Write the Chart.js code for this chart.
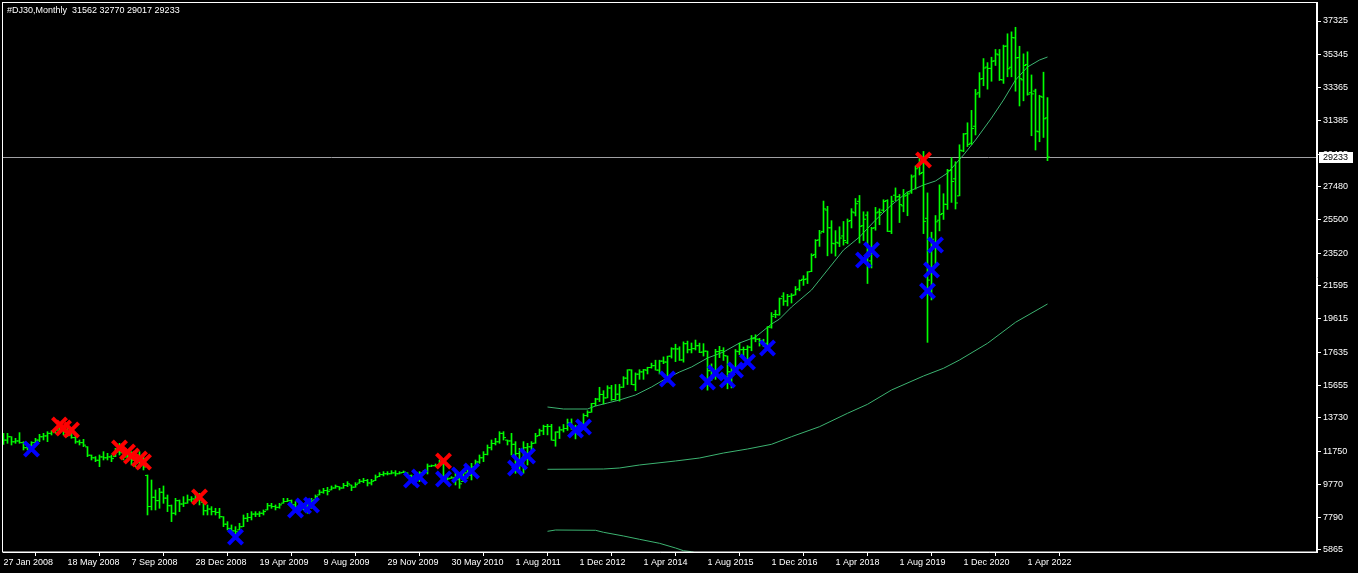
<!DOCTYPE html>
<html>
<head>
<meta charset="utf-8">
<title>#DJ30,Monthly</title>
<script src="https://cdn.jsdelivr.net/npm/chart.js@4.4.1/dist/chart.umd.min.js"></script>
<style>
  html, body { margin: 0; padding: 0; background: #000; }
  #wrap { position: relative; width: 1358px; height: 573px; }
  canvas { display: block; }
</style>
</head>
<body>
<div id="wrap"><canvas id="chart" width="1358" height="573"></canvas></div>
<script>
// ---- data (one bar per slot; weekly up to 2011, monthly after) ----
const symbolTitle = "#DJ30,Monthly";
const lastOHLC = [31562, 32770, 29017, 29233];
const bidPrice = 29233;

const tickLabels = ["27 Jan 2008", "18 May 2008", "7 Sep 2008", "28 Dec 2008", "19 Apr 2009",
  "9 Aug 2009", "29 Nov 2009", "30 May 2010", "1 Aug 2011", "1 Dec 2012", "1 Apr 2014",
  "1 Aug 2015", "1 Dec 2016", "1 Apr 2018", "1 Aug 2019", "1 Dec 2020", "1 Apr 2022"];
const tickBars = [0, 16, 32, 48, 64, 80, 96, 112, 128, 144, 160, 176, 192, 208, 224, 240, 256];

const priceTicks = [37325, 35345, 33365, 31385, 29405, 27480, 25500, 23520, 21595, 19615,
  17635, 15655, 13730, 11750, 9770, 7790, 5865];

const barOpen = [
  12500,12400,12600,12300,12350,12250,11950,12100,12250,12400,
  12600,12650,12800,12900,13000,12950,12900,12700,12550,12300,
  12250,12000,11500,11350,11200,11400,11350,11400,11420,11700,
  11650,11400,11450,11200,11300,11100,10300,8450,9000,8800,
  9300,8950,8500,8050,8800,8600,8650,8850,8900,8950,
  8700,8200,8300,8150,8100,7840,7400,7150,7000,7060,
  7250,7750,7800,8000,8000,8050,8250,8500,8450,8400,
  8650,8750,8800,8550,8400,8350,8450,8600,8850,9140,
  9300,9400,9440,9550,9630,9550,9700,9730,9600,9840,
  9950,10000,9850,9990,10230,10350,10400,10400,10450,10400,
  10470,10460,10300,10100,10200,10450,10500,10850,10880,10930,
  11100,10200,10130,10150,10050,9940,10450,10300,10800,11100,
  11350,11550,11950,12200,12300,12800,12400,12350,12150,11600,
  10900,11950,12000,12220,12665,12952,13213,13214,12391,12880,
  13008,13090,13437,13099,13027,13104,13861,14054,14580,14839,
  15113,14911,15499,14810,15132,15544,16085,16572,15697,16321,
  16458,16559,16716,16828,16561,17099,17041,17390,17827,17823,
  17170,18135,17778,17840,18017,17638,17690,16528,16278,17664,
  17719,17405,16453,16546,17661,17784,17790,17925,18434,18400,
  18308,18158,19122,19873,19848,20957,20665,20962,21030,21392,
  21961,21982,22423,23442,24305,24810,26083,25025,24076,24117,
  24542,24161,25461,25916,26598,25151,25779,23058,25025,25967,
  26076,26640,24820,26964,26882,26333,26962,27162,28109,28639,
  28319,25591,21227,24120,25475,25879,26419,28440,27940,26925,
  29597,30627,30054,31065,33054,33904,34584,34507,34951,35313,
  33820,35834,34575,36322,35151,33826,34740,33061,33156,30737,
  32798,31562
];
const barHigh = [
  12804,12804,12606,12507,12844,12308,12209,12308,12507,12745,
  12804,12903,12963,13101,13200,13240,13200,13002,12804,12408,
  12447,12011,11516,11417,11516,11714,11615,11516,11912,12209,
  11912,11813,11714,11615,11714,11516,10327,10029,9435,9534,
  9673,9137,8543,8939,8840,9038,9137,9038,9236,9236,
  8741,8543,8444,8345,8345,7849,7552,7354,7254,7453,
  7948,8047,8147,8147,8147,8246,8642,8642,8543,8642,
  8939,8939,8840,8741,8642,8642,8840,8939,9137,9435,
  9534,9593,9673,9732,9633,9831,9930,9732,9870,10069,
  10128,10069,10069,10327,10465,10525,10525,10584,10584,10525,
  10564,10465,10327,10327,10525,10584,10981,10921,10981,11218,
  11119,10227,10227,10624,10327,10624,10822,11020,11218,11516,
  11714,12110,12408,12507,12903,12903,12408,12804,12308,11912,
  12308,12209,12308,12804,13055,13289,13338,13338,12898,13190,
  13330,13653,13662,13290,13430,13969,14149,14585,14888,15542,
  15341,15634,15658,15709,15721,16175,16588,16588,16398,16588,
  16604,16736,16978,17152,17153,17350,17395,17895,18103,17951,
  18244,18289,18175,18351,18168,18137,17697,16934,17800,17978,
  17898,17405,16752,17791,18168,17934,18017,18622,18668,18450,
  18399,19152,19987,20125,20851,21169,21070,21113,21535,21929,
  22179,22420,23485,24327,24876,26617,26306,25450,24858,25086,
  25403,25551,26167,26769,26951,25980,25980,25056,26241,26155,
  26696,26696,26907,27399,27012,27306,27155,28175,28701,29374,
  29568,27102,24765,25758,27580,27054,28502,29199,28958,29964,
  30637,31272,32010,33259,34256,35091,34849,35171,35632,35631,
  35892,36565,36680,36952,35824,35372,35492,34117,33273,32910,
  34281,32770
];
const barLow = [
  12150,12209,12110,12209,12209,11813,11813,11714,12209,12308,
  12408,12308,12705,12804,12804,12705,12606,12507,12209,12110,
  12011,11417,11218,11119,10822,11218,11218,11119,11417,11516,
  11218,11119,10921,10822,10723,10624,7948,8246,8246,8345,
  8642,8147,7552,7948,8147,8444,8642,8741,8642,8543,
  7948,7948,7948,7948,7750,7254,7056,6858,6561,7056,
  7254,7552,7651,7849,7849,7948,8246,8345,8246,8345,
  8642,8741,8444,8246,8246,8246,8047,8345,8840,9137,
  9236,9137,9435,9534,9435,9534,9633,9395,9593,9831,
  9870,9673,9732,9989,10227,10267,10327,10386,10267,10386,
  10465,10188,9930,9831,9930,10386,10386,10822,10822,10921,
  9930,10029,10128,9732,9534,9930,10128,10029,10723,11020,
  11119,11516,11813,12110,12209,12408,12110,11516,10426,10525,
  10426,10921,11615,12209,12660,12721,12710,12391,12035,12492,
  12880,12979,13040,12471,12883,13104,13784,14054,14434,14688,
  14551,14912,14760,14777,14719,15529,15704,15699,15340,16016,
  16015,16334,16679,16563,16334,16945,15855,17278,17068,17136,
  17037,17585,17584,17760,17600,17400,15370,15942,16013,17305,
  17138,15450,15503,16546,17484,17331,17063,17713,18247,17992,
  17959,17884,19057,19677,19831,20413,20379,20554,21030,21279,
  21600,21709,22416,23242,23921,24742,23360,23509,23345,23908,
  23997,24077,25017,25733,24122,24268,21713,22638,24883,25208,
  25993,24802,24681,26636,25339,25978,25743,27072,27325,28170,
  24681,18213,20735,22789,24843,25523,26120,26537,26144,26925,
  29549,29856,29983,30547,32783,33474,33271,33741,34680,33785,
  33613,34006,34007,33150,32272,32578,32913,30500,29653,30144,
  30400,29017
];
const barClose = [
  12400,12600,12300,12350,12250,11950,12100,12250,12400,12600,
  12650,12800,12900,13000,12950,12900,12700,12550,12300,12250,
  12100,11500,11350,11200,11400,11350,11400,11300,11700,11650,
  11400,11450,11200,11300,11100,10800,8450,9000,8800,9300,
  8950,8500,8050,8800,8600,8650,8850,8900,8950,9000,
  8200,8300,8150,8100,7850,7400,7150,7000,6950,7250,
  7750,7800,8000,8000,8050,8150,8500,8450,8400,8550,
  8750,8800,8550,8400,8350,8450,8600,8800,9050,9300,
  9400,9350,9550,9650,9550,9700,9800,9600,9750,9950,
  10000,9850,9950,10200,10350,10400,10400,10450,10400,10450,
  10500,10300,10100,10200,10450,10500,10850,10880,10900,11100,
  10200,10100,10150,10050,9800,10450,10300,10800,11100,11350,
  11550,11950,12200,12300,12800,12550,12350,12150,11600,10900,
  11950,12000,12200,12630,12952,13212,13214,12393,12880,13009,
  13091,13437,13096,13026,13104,13861,14054,14579,14840,15116,
  14910,15500,14810,15130,15546,16086,16577,15699,16322,16458,
  16581,16717,16827,16563,17098,17043,17391,17828,17823,17165,
  18133,17776,17841,18011,17620,17690,16528,16285,17664,17720,
  17425,16466,16517,17685,17774,17787,17930,18432,18401,18308,
  18142,19124,19763,19864,20812,20663,20941,21009,21350,21891,
  21948,22405,23377,24272,24719,26149,25029,24103,24163,24416,
  24271,25415,25965,26458,25116,25538,23327,24999,25916,25929,
  26593,24815,26600,26864,26403,26917,27046,28051,28538,28256,
  25409,21917,24346,25383,25813,26428,28430,27782,26502,29638,
  30606,29983,30932,32982,33875,34529,34503,34935,35361,33844,
  35820,34484,36338,35132,33893,34678,32977,32990,30775,32845,
  31510,29233
];

// moving averages (bar slot, value)
const maFastBars = [136,140,146,148,151,154,158,162,165,169,172,176,180,184,188,192,194,197,202,206,
  210,214,218,222,226,230,233,236,240,243,247,250,253,256,259,261];
const maFastVals = [14369,14250,14250,14429,14607,14786,15083,15559,15975,16451,16748,17283,17640,18175,
  18532,19300,19600,20316,21327,22517,23706,24479,25490,26382,27155,27572,27810,28285,29356,30248,
  31556,32627,33816,34589,35005,35184];
const maMidBars = [136,150,154,159,168,174,180,186,192,197,204,211,216,222,230,235,239,246,253,261];
const maMidVals = [10664,10682,10742,10920,11158,11336,11633,11871,12151,12603,13198,13995,14530,
  15380,16213,16671,17164,18157,19406,20495];
const maSlowBars = [136,138,148,150,155,159,164,168,170,172,176,180];
const maSlowVals = [6977,7054,7037,6918,6698,6501,6263,5984,5823,5764,5500,5300];

// signal crosses
const buyBars = [7,58,73,75,77,102,104,110,114,117,128,129,131,143,145,166,176,178,181,183,186,191,215,217,231,232,233];
const buyVals = [11871,6638,8244,8482,8541,10028,10206,10087,10325,10563,10742,11098,11455,12997,13180,
  16034,15856,16391,15975,16570,17046,17878,23110,23706,21268,22517,24003];
const sellBars = [14,15,17,29,31,32,34,35,49,110,230];
const sellVals = [13298,13120,13001,11931,11693,11455,11277,11098,9017,11158,29058];

// ---- styling ----
const FONT = { family: "'Liberation Sans', Arial, sans-serif", size: 9 };
const barGreen = '#00ff00';
const maGreen = '#3cb371';

function pts(xs, ys) { return xs.map((x, k) => ({ x: x, y: ys[k] })); }

const mtPlugin = {
  id: 'mtLook',
  beforeDraw(chart) {
    const ctx = chart.ctx;
    ctx.save();
    ctx.fillStyle = '#000';
    ctx.fillRect(0, 0, chart.width, chart.height);
    ctx.restore();
  },
  beforeDatasetsDraw(chart) {
    const { ctx, chartArea } = chart;
    const y = Math.round(chart.scales.y.getPixelForValue(bidPrice)) + 0.5;
    ctx.save();
    ctx.strokeStyle = '#a0a0a4';
    ctx.lineWidth = 1;
    ctx.beginPath();
    ctx.moveTo(chartArea.left, y);
    ctx.lineTo(chartArea.right, y);
    ctx.stroke();
    ctx.restore();
  },
  afterDraw(chart) {
    const { ctx, chartArea } = chart;
    ctx.save();
    // frame
    ctx.strokeStyle = '#fff';
    ctx.lineWidth = 1;
    ctx.strokeRect(chartArea.left - 0.5, chartArea.top + 0.5,
      chartArea.right - chartArea.left, chartArea.bottom - chartArea.top - 0.5);
    // price label on the axis
    const y = Math.round(chart.scales.y.getPixelForValue(bidPrice));
    ctx.fillStyle = '#fff';
    ctx.fillRect(chartArea.right + 2, y - 5, 34, 11);
    ctx.fillStyle = '#000';
    ctx.font = FONT.size + 'px ' + FONT.family;
    ctx.textBaseline = 'middle';
    ctx.textAlign = 'left';
    ctx.fillText(String(bidPrice), chartArea.right + 6, y + 0.5);
    // title line
    ctx.fillStyle = '#fff';
    ctx.fillText(symbolTitle + '  ' + lastOHLC.join(' '), 7, 11);
    ctx.restore();
  }
};

const chart = new Chart(document.getElementById('chart'), {
  type: 'bar',
  data: {
    datasets: [
      {
        type: 'line', label: 'buy', order: 0, showLine: false,
        data: pts(buyBars, buyVals),
        pointStyle: 'crossRot', pointRadius: 10, pointBorderWidth: 4,
        pointBorderColor: '#0000ff', pointBackgroundColor: '#0000ff'
      },
      {
        type: 'line', label: 'sell', order: 0, showLine: false,
        data: pts(sellBars, sellVals),
        pointStyle: 'crossRot', pointRadius: 10, pointBorderWidth: 4,
        pointBorderColor: '#ff0000', pointBackgroundColor: '#ff0000'
      },
      {
        type: 'line', label: 'open', order: 1, showLine: false,
        data: barOpen.map((v, i) => ({ x: i - 0.375, y: v })),
        pointStyle: 'line', pointRadius: 1, pointBorderWidth: 1, pointBorderColor: barGreen
      },
      {
        type: 'line', label: 'close', order: 1, showLine: false,
        data: barClose.map((v, i) => ({ x: i + 0.375, y: v })),
        pointStyle: 'line', pointRadius: 1, pointBorderWidth: 1, pointBorderColor: barGreen
      },
      {
        type: 'bar', label: 'range', order: 2,
        data: barHigh.map((h, i) => ({ x: i, y: [barLow[i], h] })),
        backgroundColor: barGreen, borderWidth: 0, barThickness: 1, grouped: false
      },
      {
        type: 'line', label: 'ma fast', order: 3, data: pts(maFastBars, maFastVals),
        borderColor: maGreen, borderWidth: 1, pointRadius: 0, tension: 0
      },
      {
        type: 'line', label: 'ma mid', order: 3, data: pts(maMidBars, maMidVals),
        borderColor: maGreen, borderWidth: 1, pointRadius: 0, tension: 0
      },
      {
        type: 'line', label: 'ma slow', order: 3, data: pts(maSlowBars, maSlowVals),
        borderColor: maGreen, borderWidth: 1, pointRadius: 0, tension: 0
      }
    ]
  },
  options: {
    responsive: false,
    devicePixelRatio: 1,
    animation: false,
    events: [],
    layout: { autoPadding: false, padding: { left: 3, top: 2, right: 0, bottom: 0 } },
    plugins: { legend: { display: false }, tooltip: { enabled: false } },
    scales: {
      x: {
        type: 'linear', min: -0.125, max: 328.375, offset: false,
        grid: { drawOnChartArea: false, drawTicks: true, tickLength: 4, color: '#fff' },
        border: { display: true, color: '#fff' },
        ticks: {
          color: '#fff', font: FONT, align: 'start', padding: 1,
          autoSkip: false, maxRotation: 0,
          callback: (v, k) => tickLabels[k]
        },
        afterBuildTicks: s => { s.ticks = tickBars.map(v => ({ value: v })); },
        afterFit: s => { s.height = 21; s.paddingLeft = 0; s.paddingRight = 0; }
      },
      y: {
        type: 'linear', position: 'right', min: 5746, max: 38455,
        grid: { drawOnChartArea: false, drawTicks: true, tickLength: 4, color: '#fff' },
        border: { display: true, color: '#fff' },
        ticks: { color: '#fff', font: FONT, padding: 2, callback: v => String(v) },
        afterBuildTicks: s => { s.ticks = priceTicks.map(v => ({ value: v })); },
        afterFit: s => { s.width = 41; s.paddingTop = 0; s.paddingBottom = 0; }
      }
    }
  },
  plugins: [mtPlugin]
});
</script>
</body>
</html>
